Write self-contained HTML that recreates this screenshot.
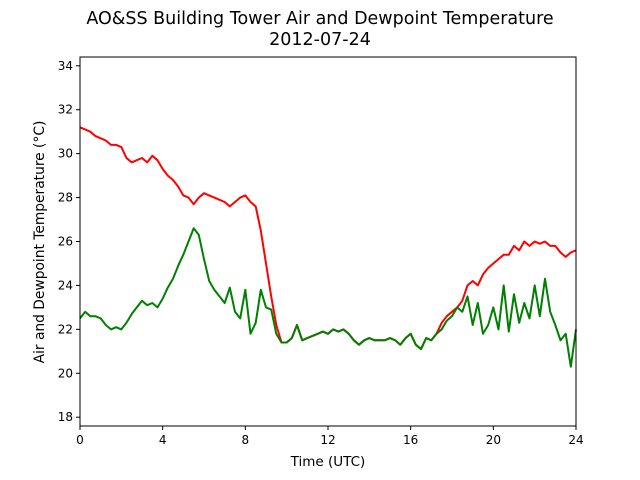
<!DOCTYPE html>
<html><head><meta charset="utf-8"><style>
body{margin:0;background:#fff;}
svg{display:block;font-family:"DejaVu Sans","Liberation Sans",sans-serif;}
</style></head><body>
<svg id="chart" width="640" height="480">
<text x="320" y="24" text-anchor="middle" font-size="17.5">AO&amp;SS Building Tower Air and Dewpoint Temperature</text>
<text x="320" y="45" text-anchor="middle" font-size="17.5">2012-07-24</text>
<text x="328" y="466" text-anchor="middle" font-size="13.5">Time (UTC)</text>
<text transform="translate(44,242) rotate(-90)" text-anchor="middle" font-size="13.8">Air and Dewpoint Temperature (°C)</text>
<g id="plot"></g>
</svg>
<script>
const xTicks=[0,4,8,12,16,20,24];
const yTicks=[18,20,22,24,26,28,30,32,34];
const hours=[];for(let i=0;i<=96;i++)hours.push(i*0.25);
const airTemp=[31.2,31.1,31.0,30.8,30.7,30.6,30.4,30.4,30.3,29.8,29.6,29.7,29.8,29.6,29.9,29.7,29.3,29.0,28.8,28.5,28.1,28.0,27.7,28.0,28.2,28.1,28.0,27.9,27.8,27.6,27.8,28.0,28.1,27.8,27.6,26.5,25.0,23.5,22.2,21.4,21.4,21.6,22.2,21.5,21.6,21.7,21.8,21.9,21.8,22.0,21.9,22.0,21.8,21.5,21.3,21.5,21.6,21.5,21.5,21.5,21.6,21.5,21.3,21.6,21.8,21.3,21.1,21.6,21.5,21.8,22.3,22.6,22.8,23.0,23.3,24.0,24.2,24.0,24.5,24.8,25.0,25.2,25.4,25.4,25.8,25.6,26.0,25.8,26.0,25.9,26.0,25.8,25.8,25.5,25.3,25.5,25.6];
const dewTemp=[22.5,22.8,22.6,22.6,22.5,22.2,22.0,22.1,22.0,22.3,22.7,23.0,23.3,23.1,23.2,23.0,23.4,23.9,24.3,24.9,25.4,26.0,26.6,26.3,25.2,24.2,23.8,23.5,23.2,23.9,22.8,22.5,23.8,21.8,22.3,23.8,23.0,22.9,21.8,21.4,21.4,21.6,22.2,21.5,21.6,21.7,21.8,21.9,21.8,22.0,21.9,22.0,21.8,21.5,21.3,21.5,21.6,21.5,21.5,21.5,21.6,21.5,21.3,21.6,21.8,21.3,21.1,21.6,21.5,21.8,22.0,22.4,22.6,23.0,22.8,23.5,22.2,23.2,21.8,22.2,23.0,22.0,24.0,21.9,23.6,22.3,23.2,22.5,24.0,22.6,24.3,22.8,22.2,21.5,21.8,20.3,22.0];
const L=80,R=576,T=57,B=426,xMin=0,xMax=24,yMin=17.6,yMax=34.4;
const xs=v=>L+(v-xMin)/(xMax-xMin)*(R-L);
const ys=v=>B-(v-yMin)/(yMax-yMin)*(B-T);
const NS='http://www.w3.org/2000/svg';
const g=document.getElementById('plot');
function mk(t,a){const e=document.createElementNS(NS,t);for(const k in a)e.setAttribute(k,a[k]);g.appendChild(e);return e;}
function line(vals,color,name){
  const d=vals.map((v,i)=>(i?'L':'M')+xs(hours[i]).toFixed(1)+','+ys(v).toFixed(1)).join('');
  const p=mk('path',{d:d,fill:'none',stroke:color,'stroke-width':2,'stroke-linejoin':'round'});
  
  
}
line(airTemp,'#ff0000','air-temperature-line');
line(dewTemp,'#008000','dewpoint-temperature-line');
const fr=mk('rect',{x:L,y:T,width:R-L,height:B-T,fill:'none',stroke:'#000','stroke-width':1});


xTicks.forEach(v=>{
  const x=xs(v);
  mk('line',{x1:x,x2:x,y1:B,y2:B+4,stroke:'#000'});
  const t=mk('text',{x:x,y:B+18,'text-anchor':'middle','font-size':12});
  t.textContent=v;
  
  
});
yTicks.forEach(v=>{
  const y=ys(v);
  mk('line',{x1:L-4,x2:L,y1:y,y2:y,stroke:'#000'});
  const t=mk('text',{x:L-7,y:y+4,'text-anchor':'end','font-size':12});
  t.textContent=v;
  
  
});
</script>
</body></html>
